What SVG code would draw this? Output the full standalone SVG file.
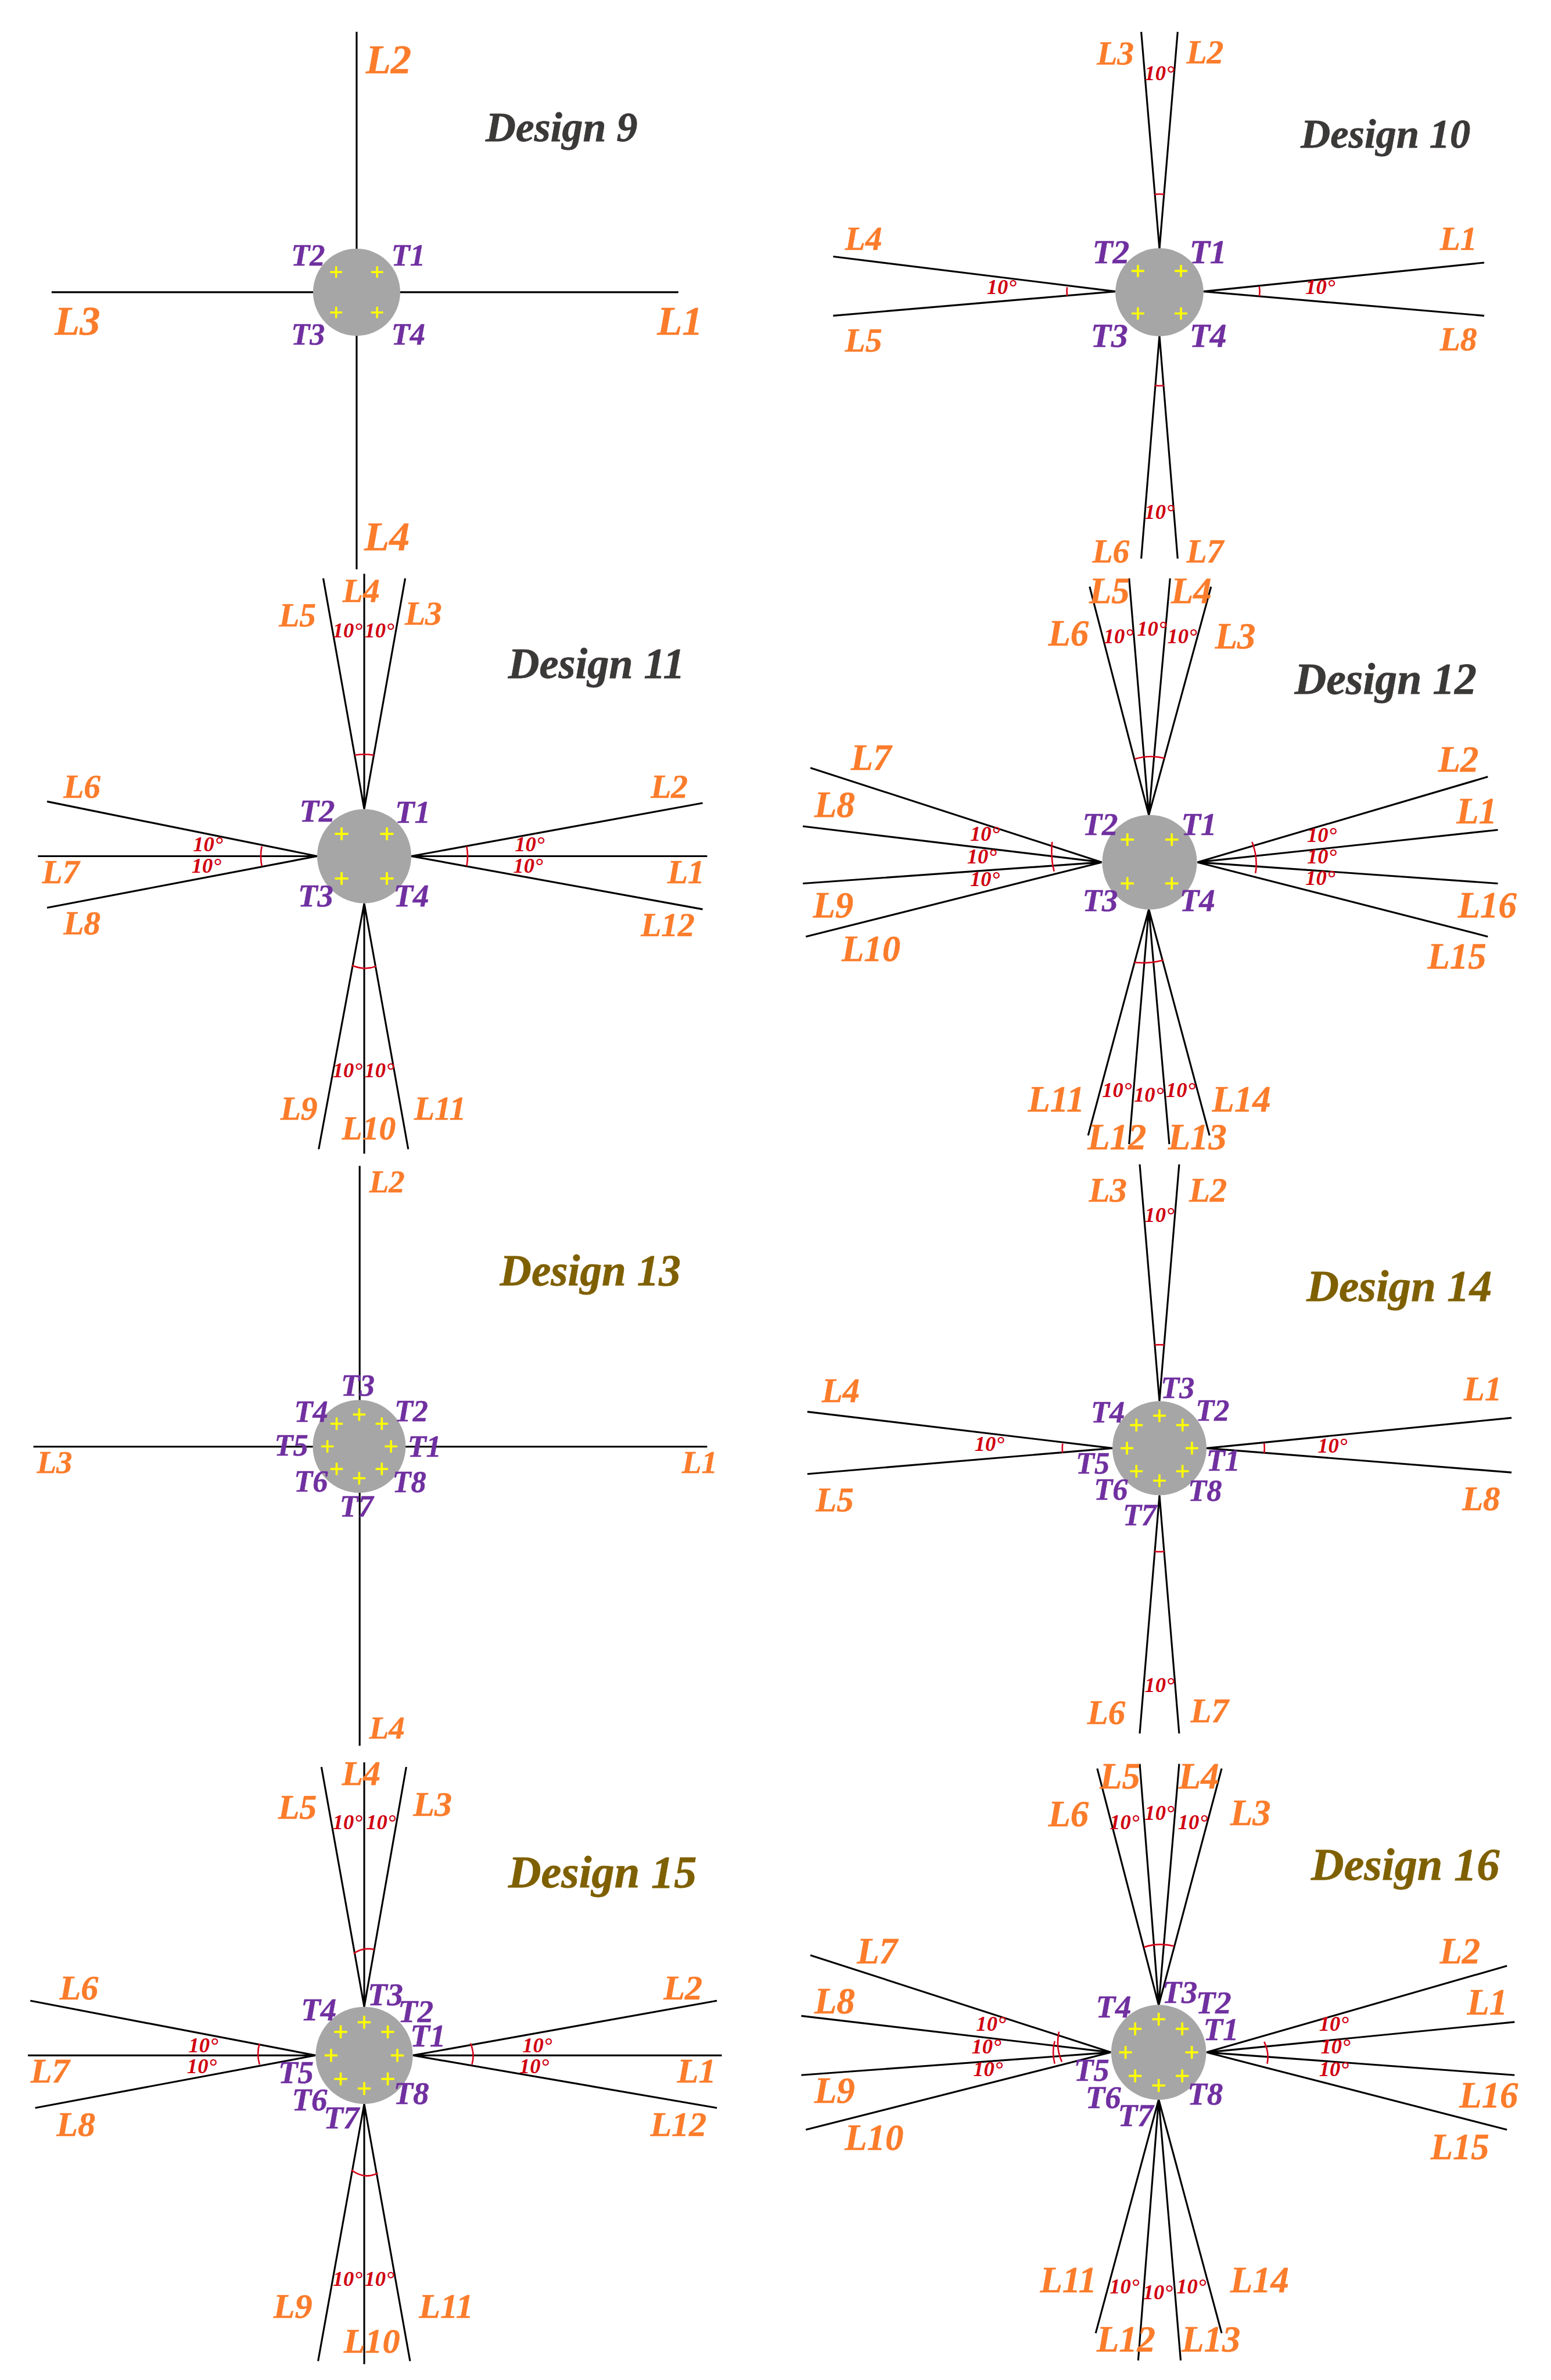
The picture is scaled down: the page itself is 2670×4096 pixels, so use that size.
<svg xmlns="http://www.w3.org/2000/svg" xmlns:xlink="http://www.w3.org/1999/xlink" width="2670" height="4096" viewBox="0 0 2670 4096">
<style>
text{font-family:"Liberation Serif","Times New Roman",serif;font-weight:bold;font-style:italic;text-anchor:middle;dominant-baseline:central}
.l{fill:#FB7C2B;stroke:#FB7C2B;stroke-width:.2;transform:translateY(-.8px)}.t{fill:#7030A0;stroke:#7030A0;stroke-width:.2}.a{fill:#D00010;font-size:14px}.d1{fill:#3B3838;stroke:#3B3838;stroke-width:.3}.d2{fill:#7F6000;stroke:#7F6000;stroke-width:.3}
.k{fill:none;stroke:#000;stroke-width:1.2}.r{fill:none;stroke:#D80018;stroke-width:1}
.b{fill:#A6A6A6}.c{fill:none;stroke:#FF0;stroke-width:1.4}
</style>
<defs>
<path id="x4" class="c" d="M-18.4-14H-10M-14.2-18V-10M10-14H18.4M14.2-18V-10M-18.4 14H-10M-14.2 10V18M10 14H18.4M14.2 10V18"/>
<path id="x8" class="c" d="M17.2 0H25.6M21.4-4.2V4.2M-25.6 0H-17.2M-21.4-4.2V4.2M-4.2-21.4H4.2M0-25.6V-17.2M-4.2 21.4H4.2M0 17.2V25.6M11 -15.2H19.4M15.2-19.4V-11M-19.4-15.2H-11M-15.2-19.4V-11M11 15.2H19.4M15.2 11V19.4M-19.4 15.2H-11M-15.2 11V19.4"/>
</defs>
<rect width="2670" height="4096" fill="#fff"/>
<g transform="scale(2.6125)">
<g id="connectors">
<path class="k" d="M235 21V375M34 192.5H447"/>
<path class="k" d="M764 164L752 21M764 164L776 21M793 192L978 173M793 192L978 208M735 192L549 169M735 192L549 208M764 221L752 368M764 221L776 368"/>
<path class="r" d="M760.9 128Q764 127.7 767.1 128M829.8 188.8Q830.3 192 829.8 195.2M703.2 189.2Q702.8 192 703.2 194.8M761 254Q764 254.3 767 254"/>
<path class="k" d="M240 533L213 381M240 533V378M240 533L267 381M271 564L463 529M271 564H466M271 564L463 599M209 564H25M209 564L31 528M209 564L31 598M240 595L210 757M240 595V760M240 595L269 757"/>
<path class="r" d="M233.7 497.5Q240 496.4 246.3 497.5M307.5 557.5Q308.8 564 307.5 570.5M172.5 557.5Q171.2 564 172.5 570.5M232 636Q240 639.5 248 636.5"/>
<path class="k" d="M757 537L718 386.5M757 537L744 381M757 537L771 381M757 537L798 386.5M789 568L980.4 511.7M789 568L987 546.7M789 568L987 582M789 568L980.4 617M726 568L534 505.8M726 568L529 544.3M726 568L529 582M726 568L531 617M757 599L717 748M757 599L744 753.7M757 599L770.5 753.7M757 599L797 748"/>
<path class="r" d="M747.7 500Q757.5 497 767.5 499.5M825 554.6Q829 565 827.3 575.2M693.3 554.6Q692.2 565 694.6 574M747.4 634Q757 635 766.7 632.4"/>
<path class="k" d="M237 768V1150M22 953H466"/>
<path class="k" d="M764 923L751 767M764 923L777 767M795 954L996 934M795 954L996 970M733 954L532 930M733 954L532 971M764 985L751 1142M764 985L777 1142"/>
<path class="r" d="M760.8 886Q764 885.7 767.2 886M833 950.7Q833.4 954 833 957.3M700.2 951Q699.8 954 700.2 957M760.8 1022Q764 1022.4 767.2 1022"/>
<path class="k" d="M240 1322L211.8 1164M240 1322V1161M240 1322L267.7 1164M272 1354L472.4 1318M272 1354H475.6M272 1354L472.4 1388.6M208 1354H18.4M208 1354L20 1318M208 1354L23.2 1388.6M240 1386L209.6 1555.4M240 1386V1557.4M240 1386L270.2 1555.4"/>
<path class="r" d="M233 1287Q239 1282.5 246.7 1284.3M310 1346Q313 1353 311 1360M171 1346.2Q169 1353 171 1360M231.5 1429.5Q240 1436 249 1431.5"/>
<path class="k" d="M763.5 1321L723 1165M763.5 1321L751 1162M763.5 1321L777 1162M763.5 1321L805 1165M795 1352L993 1295M795 1352L998 1332M795 1352L998 1367M795 1352L993 1403M732 1352L534 1288M732 1352L528 1328M732 1352L528 1367M732 1352L531 1403M763.5 1383L722 1537M763.5 1383L750 1555M763.5 1383L778 1555M763.5 1383L805 1537"/>
<path class="r" d="M753.7 1282.8Q763 1279.5 773.6 1282M833 1345Q836.5 1352 835 1359.5M697.8 1338.4Q695.5 1349 699.7 1358.3M695 1344.6Q693 1352 695 1359.5"/>
</g>
<g id="design-9" font-size="27">
<circle class="b" cx="235" cy="192.5" r="28.7"/><use xlink:href="#x4" href="#x4" transform="translate(235 192.5) scale(.95)"/>
<text class="d1" x="370" y="84" font-size="27.5">Design 9</text>
<text class="l" x="256" y="40">L2</text><text class="l" x="51" y="212">L3</text><text class="l" x="448" y="212">L1</text><text class="l" x="255" y="354">L4</text>
<g font-size="20"><text class="t" x="203" y="168">T2</text><text class="t" x="269" y="168">T1</text><text class="t" x="203" y="220">T3</text><text class="t" x="269" y="220">T4</text></g>
</g>
<g id="design-10" font-size="22">
<circle class="b" cx="764" cy="192.5" r="29"/><use xlink:href="#x4" href="#x4" transform="translate(764 192.5)"/>
<text class="d1" x="913" y="88" font-size="27">Design 10</text>
<text class="l" x="735" y="36">L3</text><text class="l" x="794" y="35">L2</text><text class="l" x="569" y="158">L4</text><text class="l" x="569" y="225">L5</text><text class="l" x="961" y="158">L1</text><text class="l" x="961" y="224">L8</text><text class="l" x="732" y="364">L6</text><text class="l" x="794" y="364">L7</text>
<text class="a" x="764" y="48">10°</text><text class="a" x="870" y="189">10°</text><text class="a" x="660" y="189">10°</text><text class="a" x="764" y="337">10°</text>
<g font-size="22"><text class="t" x="732" y="166">T2</text><text class="t" x="796" y="166">T1</text><text class="t" x="731" y="221">T3</text><text class="t" x="796" y="221">T4</text></g>
</g>
<g id="design-11" font-size="22">
<circle class="b" cx="240" cy="564" r="31"/><use xlink:href="#x4" href="#x4" transform="translate(240 564) scale(1.05)"/>
<text class="d1" x="393" y="437" font-size="28.5">Design 11</text>
<text class="l" x="238" y="390">L4</text><text class="l" x="196" y="406">L5</text><text class="l" x="279" y="405">L3</text><text class="l" x="54" y="519">L6</text><text class="l" x="40" y="575">L7</text><text class="l" x="54" y="609">L8</text><text class="l" x="441" y="519">L2</text><text class="l" x="452" y="575">L1</text><text class="l" x="440" y="610">L12</text><text class="l" x="197" y="731">L9</text><text class="l" x="243" y="744">L10</text><text class="l" x="290" y="731">L11</text>
<text class="a" x="229" y="415">10°</text><text class="a" x="250" y="415">10°</text><text class="a" x="349" y="556">10°</text><text class="a" x="348" y="570">10°</text><text class="a" x="137" y="556">10°</text><text class="a" x="136" y="570">10°</text><text class="a" x="229" y="705">10°</text><text class="a" x="250" y="705">10°</text>
<g font-size="21"><text class="t" x="209" y="534">T2</text><text class="t" x="272" y="535">T1</text><text class="t" x="208" y="590">T3</text><text class="t" x="271" y="590">T4</text></g>
</g>
<g id="design-12" font-size="24">
<circle class="b" cx="757.5" cy="568" r="31.2"/><use xlink:href="#x4" href="#x4" transform="translate(757.5 567.5) scale(1.03)"/>
<text class="d1" x="913" y="447" font-size="29">Design 12</text>
<text class="l" x="731" y="390">L5</text><text class="l" x="785" y="390">L4</text><text class="l" x="704" y="418">L6</text><text class="l" x="814" y="420">L3</text><text class="l" x="574" y="500">L7</text><text class="l" x="550" y="531">L8</text><text class="l" x="549" y="597">L9</text><text class="l" x="574" y="626">L10</text><text class="l" x="961" y="501">L2</text><text class="l" x="973" y="535">L1</text><text class="l" x="980" y="597">L16</text><text class="l" x="960" y="631">L15</text><text class="l" x="696" y="725">L11</text><text class="l" x="818" y="725">L14</text><text class="l" x="736" y="750">L12</text><text class="l" x="789" y="750">L13</text>
<text class="a" x="737" y="419">10°</text><text class="a" x="759" y="414">10°</text><text class="a" x="779" y="419">10°</text><text class="a" x="649" y="549">10°</text><text class="a" x="647" y="564">10°</text><text class="a" x="649" y="579">10°</text><text class="a" x="871" y="550">10°</text><text class="a" x="871" y="564">10°</text><text class="a" x="870" y="578">10°</text><text class="a" x="736" y="718">10°</text><text class="a" x="757" y="721">10°</text><text class="a" x="778" y="718">10°</text>
<g font-size="21"><text class="t" x="725" y="543">T2</text><text class="t" x="790" y="543">T1</text><text class="t" x="725" y="593">T3</text><text class="t" x="789" y="593">T4</text></g>
</g>
<g id="design-13" font-size="21">
<circle class="b" cx="236.7" cy="952.8" r="30.6"/><use xlink:href="#x8" href="#x8" transform="translate(236.7 952.8) scale(.98)"/>
<text class="d2" x="389" y="837" font-size="28.8">Design 13</text>
<text class="l" x="255" y="779">L2</text><text class="l" x="36" y="964">L3</text><text class="l" x="461" y="964">L1</text><text class="l" x="255" y="1139">L4</text>
<g font-size="20"><text class="t" x="235.8" y="912.4">T3</text><text class="t" x="205" y="929.8">T4</text><text class="t" x="271" y="929.4">T2</text><text class="t" x="192" y="952">T5</text><text class="t" x="279.7" y="952.7">T1</text><text class="t" x="204.9" y="975.6">T6</text><text class="t" x="269.7" y="976">T8</text><text class="t" x="234.9" y="992.3">T7</text></g>
</g>
<g id="design-14" font-size="22.5">
<circle class="b" cx="764" cy="954" r="31"/><use xlink:href="#x8" href="#x8" transform="translate(764 954)"/>
<text class="d2" x="922" y="847" font-size="29.5">Design 14</text>
<text class="l" x="730" y="785">L3</text><text class="l" x="796" y="785">L2</text><text class="l" x="554" y="917">L4</text><text class="l" x="550" y="989">L5</text><text class="l" x="977" y="916">L1</text><text class="l" x="976" y="988">L8</text><text class="l" x="729" y="1129">L6</text><text class="l" x="797" y="1128">L7</text>
<text class="a" x="764" y="800">10°</text><text class="a" x="878" y="952">10°</text><text class="a" x="652" y="951">10°</text><text class="a" x="764" y="1110">10°</text>
<g font-size="20"><text class="t" x="730" y="930">T4</text><text class="t" x="776" y="914">T3</text><text class="t" x="799" y="929">T2</text><text class="t" x="720" y="964">T5</text><text class="t" x="806" y="962">T1</text><text class="t" x="732" y="981">T6</text><text class="t" x="794" y="982">T8</text><text class="t" x="751" y="998">T7</text></g>
</g>
<g id="design-15" font-size="23">
<circle class="b" cx="240" cy="1354" r="32"/><use xlink:href="#x8" href="#x8" transform="translate(240 1354) scale(1.02)"/>
<text class="d2" x="397" y="1233" font-size="30">Design 15</text>
<text class="l" x="238" y="1169">L4</text><text class="l" x="196" y="1191">L5</text><text class="l" x="285" y="1189">L3</text><text class="l" x="52" y="1310">L6</text><text class="l" x="33" y="1365">L7</text><text class="l" x="50" y="1400">L8</text><text class="l" x="450" y="1310">L2</text><text class="l" x="459" y="1365">L1</text><text class="l" x="447" y="1400">L12</text><text class="l" x="193" y="1520">L9</text><text class="l" x="245" y="1543">L10</text><text class="l" x="294" y="1520">L11</text>
<text class="a" x="229" y="1200">10°</text><text class="a" x="251" y="1200">10°</text><text class="a" x="134" y="1347">10°</text><text class="a" x="133" y="1361">10°</text><text class="a" x="354" y="1347">10°</text><text class="a" x="352" y="1361">10°</text><text class="a" x="229" y="1501">10°</text><text class="a" x="250" y="1501">10°</text>
<g font-size="21"><text class="t" x="210" y="1324">T4</text><text class="t" x="254" y="1314">T3</text><text class="t" x="274" y="1325">T2</text><text class="t" x="282" y="1341">T1</text><text class="t" x="195" y="1365">T5</text><text class="t" x="271" y="1379">T8</text><text class="t" x="204" y="1383">T6</text><text class="t" x="225" y="1395">T7</text></g>
</g>
<g id="design-16" font-size="24">
<circle class="b" cx="763.5" cy="1352" r="31.3"/><use xlink:href="#x8" href="#x8" transform="translate(763.5 1352) scale(1.02)"/>
<text class="d2" x="926" y="1228" font-size="30">Design 16</text>
<text class="l" x="738" y="1171">L5</text><text class="l" x="790" y="1171">L4</text><text class="l" x="704" y="1196">L6</text><text class="l" x="824" y="1195">L3</text><text class="l" x="578" y="1286">L7</text><text class="l" x="550" y="1319">L8</text><text class="l" x="550" y="1378">L9</text><text class="l" x="576" y="1409">L10</text><text class="l" x="962" y="1286">L2</text><text class="l" x="980" y="1320">L1</text><text class="l" x="981" y="1381">L16</text><text class="l" x="962" y="1415">L15</text><text class="l" x="704" y="1503">L11</text><text class="l" x="830" y="1503">L14</text><text class="l" x="742" y="1542">L12</text><text class="l" x="798" y="1542">L13</text>
<text class="a" x="741" y="1200">10°</text><text class="a" x="764" y="1194">10°</text><text class="a" x="786" y="1200">10°</text><text class="a" x="653" y="1333">10°</text><text class="a" x="650" y="1348">10°</text><text class="a" x="651" y="1363">10°</text><text class="a" x="879" y="1333">10°</text><text class="a" x="880" y="1348">10°</text><text class="a" x="879" y="1363">10°</text><text class="a" x="741" y="1506">10°</text><text class="a" x="763" y="1510">10°</text><text class="a" x="785" y="1506">10°</text>
<g font-size="21"><text class="t" x="733.8" y="1322">T4</text><text class="t" x="777.4" y="1312.5">T3</text><text class="t" x="799.7" y="1319.4">T2</text><text class="t" x="804.6" y="1336.8">T1</text><text class="t" x="719.3" y="1363.6">T5</text><text class="t" x="727" y="1381.6">T6</text><text class="t" x="748.3" y="1393.6">T7</text><text class="t" x="794.2" y="1379.4">T8</text></g>
</g>
</g>
</svg>
